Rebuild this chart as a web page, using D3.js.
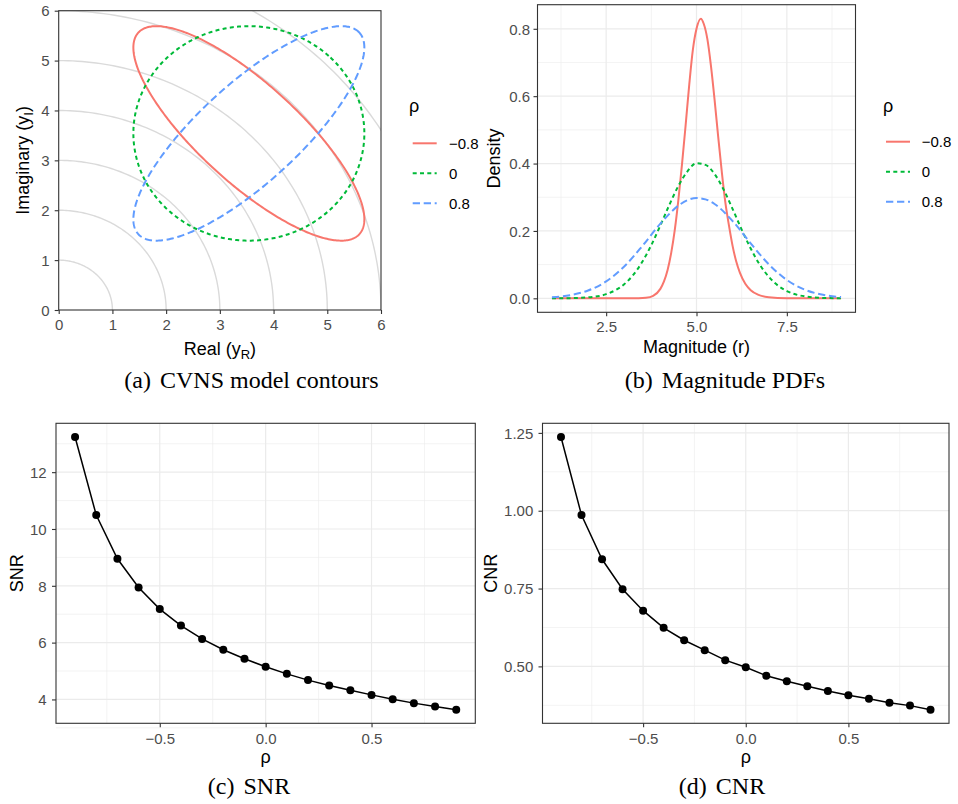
<!DOCTYPE html>
<html><head><meta charset="utf-8">
<script src="https://cdn.jsdelivr.net/npm/d3@7"></script>
<style>body{margin:0;background:#fff}</style>
</head><body><svg id="chart" width="958" height="804"></svg>
<script>
// ---------------- data ----------------
const rhoLevels = [-0.8, 0, 0.8];
const rhoLabels = ["\u22120.8", "0", "0.8"];
const seriesColors = ["#F8766D", "#00BA38", "#619CFF"];
const seriesDash = [null, "4,3.3", "7.3,3.7"];

// (a) contours
const contourCenter = [3.54, 3.54];
const contourSpread = 2.15;
const circleRadii = [1, 2, 3, 4, 5, 6, 7];
const aTicks = [0, 1, 2, 3, 4, 5, 6];

// (b) magnitude PDFs
const rRed = [1.0, 3.0, 3.4, 3.6, 3.8, 4.0, 4.1, 4.2, 4.3, 4.4, 4.5, 4.6, 4.7, 4.8, 4.9, 5.0, 5.12, 5.2, 5.3, 5.4, 5.5, 5.6, 5.7, 5.8, 5.9, 6.0, 6.1, 6.2, 6.35, 6.5, 6.7, 7.0, 7.5, 9.0];
const dRed = [0, 0, 0.0003, 0.0016, 0.0075, 0.028, 0.050, 0.084, 0.135, 0.204, 0.294, 0.399, 0.515, 0.635, 0.738, 0.800, 0.830, 0.815, 0.770, 0.690, 0.590, 0.480, 0.375, 0.283, 0.215, 0.155, 0.109, 0.076, 0.043, 0.024, 0.011, 0.0035, 0.0005, 0];
const rGreen = [1, 1.5, 2, 2.5, 3, 3.25, 3.5, 3.75, 4, 4.25, 4.5, 4.75, 5, 5.25, 5.5, 5.75, 6, 6.25, 6.5, 6.75, 7, 7.25, 7.5, 8, 8.5, 9];
const dGreen = [0.0001, 0.0005, 0.0028, 0.0124, 0.0418, 0.0696, 0.1084, 0.1581, 0.2164, 0.2776, 0.334, 0.377, 0.401, 0.396, 0.369, 0.323, 0.265, 0.204, 0.148, 0.100, 0.064, 0.038, 0.0215, 0.0056, 0.0011, 0.0002];
const rBlue = [1, 1.5, 2, 2.5, 3, 3.5, 4, 4.5, 4.75, 5, 5.25, 5.5, 6, 6.5, 7, 7.5, 8, 8.5, 9];
const dBlue = [0.0032, 0.0093, 0.0231, 0.0501, 0.0945, 0.1551, 0.2215, 0.2753, 0.2913, 0.2976, 0.2937, 0.280, 0.2291, 0.1631, 0.1010, 0.0544, 0.0255, 0.0104, 0.0037];
const bXTicks = [2.5, 5.0, 7.5];
const bXMinor = [1.25, 3.75, 6.25, 8.75];
const bYTicks = [0, 0.2, 0.4, 0.6, 0.8];
const bYMinor = [0.1, 0.3, 0.5, 0.7];

// (c),(d) SNR / CNR
const rhoGrid = [-0.9, -0.8, -0.7, -0.6, -0.5, -0.4, -0.3, -0.2, -0.1, 0, 0.1, 0.2, 0.3, 0.4, 0.5, 0.6, 0.7, 0.8, 0.9];
const snr = [13.24, 10.49, 8.95, 7.94, 7.18, 6.60, 6.13, 5.75, 5.43, 5.15, 4.90, 4.68, 4.49, 4.32, 4.16, 4.01, 3.87, 3.75, 3.64];
const cnr = [1.237, 0.986, 0.844, 0.748, 0.679, 0.624, 0.584, 0.552, 0.520, 0.497, 0.470, 0.452, 0.436, 0.421, 0.407, 0.396, 0.383, 0.374, 0.361];
const rhoTicks = [-0.5, 0, 0.5];
const rhoMinor = [-0.75, -0.25, 0.25, 0.75];
const snrTicks = [4, 6, 8, 10, 12];
const snrMinor = [3, 5, 7, 9, 11, 13];
const cnrTicks = [0.5, 0.75, 1.0, 1.25];
const cnrMinor = [0.375, 0.625, 0.875, 1.125];

const captions = [["(a)", "CVNS model contours"], ["(b)", "Magnitude PDFs"], ["(c)", "SNR"], ["(d)", "CNR"]];

// ---------------- helpers ----------------
const SANS = "'Liberation Sans', Arial, Helvetica, sans-serif";
const SERIF = "'Liberation Serif', 'Times New Roman', serif";
const TICK_FS = 15, TITLE_FS = 18;
const svg = d3.select("#chart");
svg.append("rect").attr("width", 958).attr("height", 804).attr("fill", "#fff");

function expand(ext) { const p = (ext[1] - ext[0]) * 0.05; return [ext[0] - p, ext[1] + p]; }

function grid(g, x, y, xMaj, xMin, yMaj, yMin) {
  const [x0, x1] = x.range(), [y0, y1] = y.range();
  const gg = g.append("g");
  gg.selectAll(".vmin").data(xMin).join("line").attr("x1", d => x(d)).attr("x2", d => x(d)).attr("y1", y0).attr("y2", y1).attr("stroke", "#EBEBEB").attr("stroke-width", 0.6);
  gg.selectAll(".hmin").data(yMin).join("line").attr("y1", d => y(d)).attr("y2", d => y(d)).attr("x1", x0).attr("x2", x1).attr("stroke", "#EBEBEB").attr("stroke-width", 0.6);
  gg.selectAll(".vmaj").data(xMaj).join("line").attr("x1", d => x(d)).attr("x2", d => x(d)).attr("y1", y0).attr("y2", y1).attr("stroke", "#EBEBEB").attr("stroke-width", 1.2);
  gg.selectAll(".hmaj").data(yMaj).join("line").attr("y1", d => y(d)).attr("y2", d => y(d)).attr("x1", x0).attr("x2", x1).attr("stroke", "#EBEBEB").attr("stroke-width", 1.2);
}
function border(g, x, y) {
  const [x0, x1] = x.range(), [y0, y1] = y.range();
  g.append("rect").attr("x", x0).attr("y", y1).attr("width", x1 - x0).attr("height", y0 - y1)
    .attr("fill", "none").attr("stroke", "#333333").attr("stroke-width", 1.1);
}
function axes(g, x, y, xt, xf, yt, yf, xBase, yRight) {
  const bottom = y.range()[0], left = x.range()[0];
  const ax = g.append("g").attr("transform", `translate(0,${bottom})`)
    .call(d3.axisBottom(x).tickValues(xt).tickFormat(xf).tickSize(4).tickSizeOuter(0));
  ax.select(".domain").remove();
  ax.selectAll("line").attr("stroke", "#333333").attr("stroke-width", 1.1);
  ax.selectAll("text").attr("fill", "#4D4D4D").attr("font-size", TICK_FS).attr("font-family", SANS)
    .attr("y", xBase - bottom).attr("dy", null);
  const ay = g.append("g").attr("transform", `translate(${left},0)`)
    .call(d3.axisLeft(y).tickValues(yt).tickFormat(yf).tickSize(4).tickSizeOuter(0));
  ay.select(".domain").remove();
  ay.selectAll("line").attr("stroke", "#333333").attr("stroke-width", 1.1);
  ay.selectAll("text").attr("fill", "#4D4D4D").attr("font-size", TICK_FS).attr("font-family", SANS)
    .attr("x", yRight - left).attr("dy", "0.35em");
}
function xTitle(g, x, base, parts) {
  const [x0, x1] = x.range();
  const t = g.append("text").attr("x", (x0 + x1) / 2).attr("y", base).attr("text-anchor", "middle")
    .attr("font-family", SANS).attr("font-size", TITLE_FS).attr("fill", "#000");
  parts.forEach(p => { const s = t.append("tspan").text(p.t); if (p.sub) s.attr("font-size", 13).attr("dy", 4); else if (p.back) s.attr("dy", -4); });
}
function yTitle(g, y, xb, parts) {
  const [y0, y1] = y.range();
  const t = g.append("text").attr("transform", `translate(${xb},${(y0 + y1) / 2}) rotate(-90)`).attr("text-anchor", "middle")
    .attr("font-family", SANS).attr("font-size", TITLE_FS).attr("fill", "#000");
  parts.forEach(p => { const s = t.append("tspan").text(p.t); if (p.sub) s.attr("font-size", 13).attr("dy", 4); else if (p.back) s.attr("dy", -4); });
}
function legend(g, tx, ty, lx0, lx1, ly, lab) {
  g.append("text").attr("x", tx).attr("y", ty).attr("font-family", SANS).attr("font-size", TITLE_FS).text("\u03c1");
  rhoLevels.forEach((r, i) => {
    const yy = ly + i * 30;
    const l = g.append("line").attr("x1", lx0).attr("x2", lx1).attr("y1", yy).attr("y2", yy)
      .attr("stroke", seriesColors[i]).attr("stroke-width", 2);
    if (seriesDash[i]) l.attr("stroke-dasharray", seriesDash[i]);
    g.append("text").attr("x", lab).attr("y", yy).attr("dy", "0.35em").attr("font-family", SANS)
      .attr("font-size", TICK_FS).attr("fill", "#000").text(rhoLabels[i]);
  });
}
function caption(cx, base, c) {
  const t = svg.append("text").attr("x", cx).attr("y", base).attr("text-anchor", "middle")
    .attr("font-family", SERIF).attr("font-size", 24).attr("fill", "#000");
  t.append("tspan").text(c[0]);
  t.append("tspan").attr("dx", 9).text(c[1]);
}

// ---------------- panel (a) ----------------
{
  const g = svg.append("g");
  const x = d3.scaleLinear().domain(d3.extent(aTicks)).range([58.7, 381]);
  const y = d3.scaleLinear().domain(d3.extent(aTicks)).range([310, 10.7]);
  svg.append("defs").append("clipPath").attr("id", "clipA").append("rect")
    .attr("x", 58.7).attr("y", 10.7).attr("width", 381 - 58.7).attr("height", 310 - 10.7);
  const inner = g.append("g").attr("clip-path", "url(#clipA)");
  const line = d3.line().x(d => x(d[0])).y(d => y(d[1]));
  const angles = d3.range(0, 91).map(a => a * Math.PI / 180);
  inner.selectAll(".circ").data(circleRadii).join("path")
    .attr("d", r => line(angles.map(a => [r * Math.cos(a), r * Math.sin(a)])))
    .attr("fill", "none").attr("stroke", "#DADADA").attr("stroke-width", 1.4);
  const ts = d3.range(0, 361).map(a => a * Math.PI / 180);
  rhoLevels.forEach((rho, i) => {
    const A = contourSpread * Math.sqrt(1 + rho), B = contourSpread * Math.sqrt(1 - rho);
    const pts = ts.map(t => {
      const u = A * Math.cos(t), v = B * Math.sin(t);
      return [contourCenter[0] + (u + v) / Math.SQRT2, contourCenter[1] + (u - v) / Math.SQRT2];
    });
    const p = inner.append("path").attr("d", line(pts)).attr("fill", "none")
      .attr("stroke", seriesColors[i]).attr("stroke-width", 2);
    if (seriesDash[i]) p.attr("stroke-dasharray", seriesDash[i]);
  });
  border(g, x, y);
  axes(g, x, y, aTicks, d3.format("d"), aTicks, d3.format("d"), 330, 49.5);
  xTitle(g, x, 355, [{t: "Real (y"}, {t: "R", sub: true}, {t: ")", back: true}]);
  yTitle(g, y, 29, [{t: "Imaginary (y"}, {t: "I", sub: true}, {t: ")", back: true}]);
  legend(g, 409, 112, 412.7, 436.7, 143.3, 449);
}

// ---------------- panel (b) ----------------
{
  const g = svg.append("g");
  const allR = rRed.concat(rGreen, rBlue), allD = dRed.concat(dGreen, dBlue);
  const x = d3.scaleLinear().domain(expand(d3.extent(allR))).range([537.5, 855.5]);
  const y = d3.scaleLinear().domain(expand([0, d3.max(allD)])).range([312.3, 4.7]);
  grid(g, x, y, bXTicks, bXMinor, bYTicks, bYMinor);
  const line = d3.line().x(d => x(d[0])).y(d => y(d[1])).curve(d3.curveMonotoneX);
  const series = [[rRed, dRed], [rGreen, dGreen], [rBlue, dBlue]];
  series.forEach((s, i) => {
    const p = g.append("path").attr("d", line(s[0].map((r, k) => [r, s[1][k]])))
      .attr("fill", "none").attr("stroke", seriesColors[i]).attr("stroke-width", 2);
    if (seriesDash[i]) p.attr("stroke-dasharray", seriesDash[i]);
  });
  border(g, x, y);
  axes(g, x, y, bXTicks, d3.format(".1f"), bYTicks, d3.format(".1f"), 331.7, 530);
  xTitle(g, x, 353, [{t: "Magnitude (r)"}]);
  yTitle(g, y, 500, [{t: "Density"}]);
  legend(g, 883, 112, 886, 910, 141.7, 921.7);
}

// ---------------- panels (c), (d) ----------------
function ratioPanel(vals, xr, yticks, yminor, yfmt, yRight, yTitleX, title) {
  const g = svg.append("g");
  const x = d3.scaleLinear().domain(expand(d3.extent(rhoGrid))).range(xr);
  const y = d3.scaleLinear().domain(expand(d3.extent(vals))).range([723.3, 423.3]);
  grid(g, x, y, rhoTicks, rhoMinor, yticks, yminor);
  const line = d3.line().x((d, i) => x(rhoGrid[i])).y(d => y(d));
  g.append("path").attr("d", line(vals)).attr("fill", "none").attr("stroke", "#000").attr("stroke-width", 1.5);
  g.selectAll(".pt").data(vals).join("circle").attr("cx", (d, i) => x(rhoGrid[i])).attr("cy", d => y(d))
    .attr("r", 4).attr("fill", "#000");
  border(g, x, y);
  axes(g, x, y, rhoTicks, d3.format(".1f"), yticks, yfmt, 744, yRight);
  xTitle(g, x, 762.5, [{t: "\u03c1"}]);
  yTitle(g, y, yTitleX, [{t: title}]);
}
ratioPanel(snr, [56, 475.3], snrTicks, snrMinor, d3.format("d"), 46.7, 23.3, "SNR");
ratioPanel(cnr, [542.5, 949], cnrTicks, cnrMinor, d3.format(".2f"), 533.3, 496.7, "CNR");

// ---------------- captions ----------------
caption(251.5, 387.5, captions[0]);
caption(725, 387.5, captions[1]);
caption(249, 794, captions[2]);
caption(722, 794, captions[3]);
</script></body></html>
